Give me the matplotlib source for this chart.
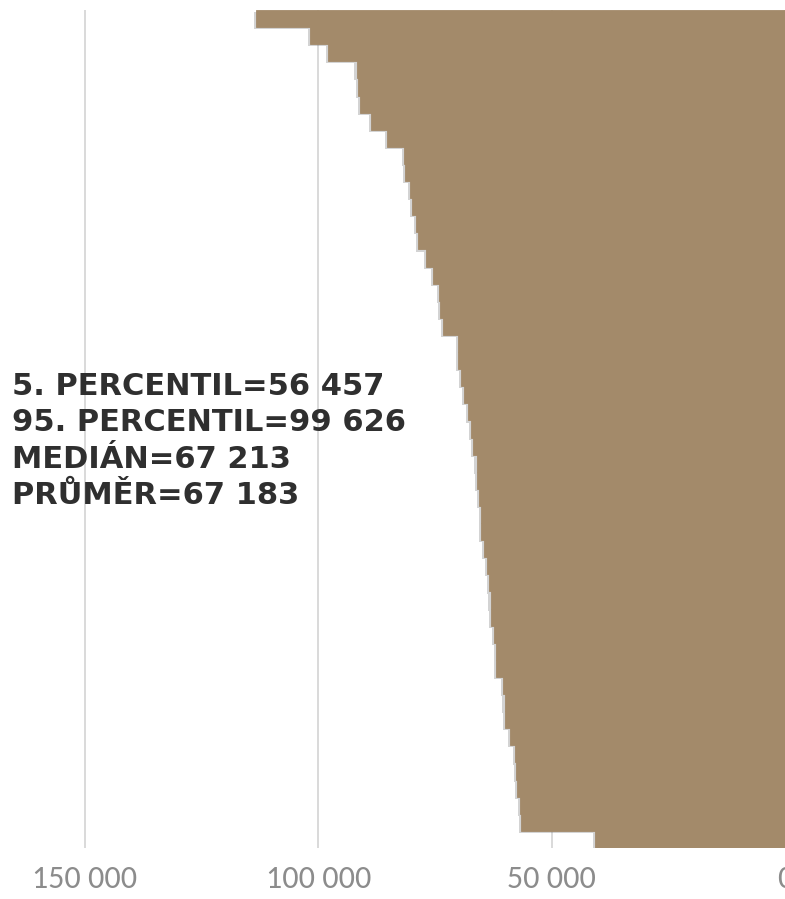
import numpy as np
import matplotlib
matplotlib.use('Agg')
import matplotlib.pyplot as plt
import matplotlib.patheffects as pe
from matplotlib.ticker import FuncFormatter

# Values, largest first (top to bottom)
values = [113400, 101800, 98000, 91800, 91500, 91100, 88600, 85300, 81600, 81500,
          80400, 80000, 79000, 78600, 76900, 75500, 74100, 74000, 73300, 70100,
          70000, 69500, 68800, 67900, 67213, 66800, 66100, 66050, 65600, 65200,
          65100, 64500, 63800, 63400, 63100, 63050, 62400, 62000, 61900, 60400,
          60100, 60000, 59000, 57900, 57600, 57500, 56700, 56600, 40800]
x_ticks = [0, 50000, 100000, 150000]
stats_lines = ['5. PERCENTIL=56 457', '95. PERCENTIL=99 626',
               'MEDIÁN=67 213', 'PRŮMĚR=67 183']

bar_color = '#a38a6a'
grid_color = '#d9d9d9'

fig = plt.figure(figsize=(7.85, 8.99), dpi=100)
ax = fig.add_axes([0, 1 - 848 / 899, 1, 838 / 899])

y = np.arange(len(values))
bars = ax.barh(y, values, height=1.0, color=bar_color, edgecolor=bar_color,
               linewidth=0.6, zorder=3)
for b in bars:
    b.set_path_effects([pe.SimplePatchShadow(offset=(-1.5, -1.5),
                                             shadow_rgbFace='#6e6e6e', alpha=0.3),
                        pe.Normal()])

ax.set_xlim(168200, 107)
ax.set_ylim(len(values) - 0.5, -0.5)

ax.set_xticks(x_ticks)
ax.xaxis.set_major_formatter(FuncFormatter(lambda v, p: f'{int(v):,}'.replace(',', ' ')))
ax.set_yticks([])
ax.grid(axis='x', color=grid_color, linewidth=1.4, zorder=0)
ax.set_axisbelow(True)
ax.tick_params(axis='x', length=0, pad=12, labelsize=23, labelcolor='#8c8c8c')
for lbl in ax.get_xticklabels():
    lbl.set_family(['Carlito', 'DejaVu Sans'])
for s in ax.spines.values():
    s.set_visible(False)

# Statistics annotation
for i, line in enumerate(stats_lines):
    fig.text(12 / 785, 1 - (395 + 36.3 * i) / 899, line, fontsize=22,
             fontweight='bold', color='#2f2f2f', ha='left', va='baseline',
             family='DejaVu Sans', zorder=5)

fig.savefig('out.png', dpi=100)
